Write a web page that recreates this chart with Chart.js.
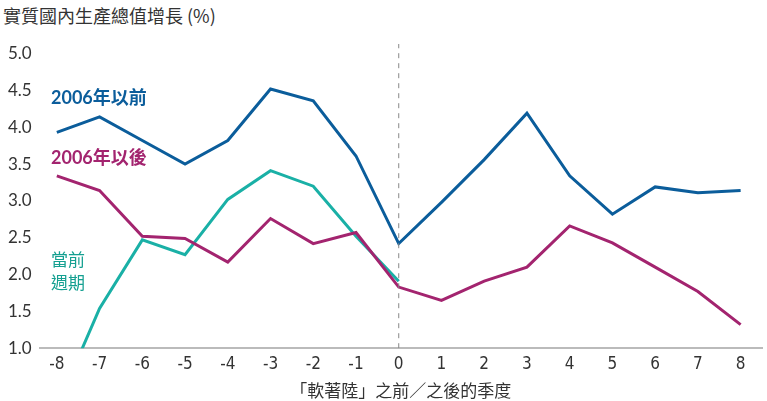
<!DOCTYPE html>
<html>
<head>
<meta charset="utf-8">
<script src="https://cdn.jsdelivr.net/npm/chart.js@4"></script>
<style>
  html, body { margin: 0; padding: 0; background: #fff; }
  #wrap { position: relative; width: 767px; height: 401px; }
  #title {
    position: absolute; left: 3px; top: 2px;
    font: 18px "Noto Sans CJK TC", "Noto Sans", sans-serif; color: #333;
  }
  canvas { position: absolute; left: 0; top: 0; }
</style>
</head>
<body>
<div id="wrap">
  <div id="title">實質國內生產總值增長 (%)</div>
  <canvas id="gdpChart" width="767" height="401"></canvas>
</div>
<script>
// -----------------------------
// Data
// -----------------------------
const quarters = [-8, -7, -6, -5, -4, -3, -2, -1, 0, 1, 2, 3, 4, 5, 6, 7, 8];
const before2006 = [3.93, 4.14, 3.82, 3.50, 3.82, 4.52, 4.36, 3.61, 2.42, 2.98, 3.56, 4.19, 3.34, 2.82, 3.19, 3.11, 3.14];
const after2006 = [3.34, 3.14, 2.52, 2.49, 2.17, 2.76, 2.42, 2.57, 1.83, 1.65, 1.91, 2.10, 2.66, 2.43, 2.10, 1.77, 1.32];
const currentCycle = [0.20, 1.54, 2.47, 2.27, 3.02, 3.41, 3.20, 2.52, 1.91];
const yTicks = [1.0, 1.5, 2.0, 2.5, 3.0, 3.5, 4.0, 4.5, 5.0];
const xTitle = "「軟著陸」之前／之後的季度";

const BLUE = "#0b5d9b";
const MAGENTA = "#a3246f";
const TEAL = "#1ab0a6";

function toPoints(values) {
  return values.map((v, i) => ({ x: quarters[i], y: v }));
}

// -----------------------------
// In-chart series labels
// -----------------------------
const seriesLabels = {
  id: "seriesLabels",
  afterDatasetsDraw(chart) {
    const ctx = chart.ctx;
    ctx.save();
    ctx.textBaseline = "middle";
    ctx.textAlign = "left";
    ctx.font = "bold 18px Lato, 'Noto Sans CJK TC', sans-serif";
    ctx.fillStyle = BLUE;
    ctx.fillText("2006年以前", 51, 98);
    ctx.fillStyle = MAGENTA;
    ctx.fillText("2006年以後", 51, 158);
    ctx.font = "17px 'Noto Sans CJK TC', sans-serif";
    ctx.fillStyle = "#15a091";
    ctx.fillText("當前", 51, 260);
    ctx.fillText("週期", 51, 283);
    ctx.restore();
  }
};

// -----------------------------
// Chart
// -----------------------------
const ctx = document.getElementById("gdpChart").getContext("2d");
new Chart(ctx, {
  type: "line",
  data: {
    datasets: [
      {
        label: "zero",
        data: [{ x: 0, y: 1 }, { x: 0, y: 5.13 }],
        borderColor: "#888",
        borderWidth: 1,
        borderDash: [5, 5],
        pointRadius: 0
      },
      {
        label: "2006年以後",
        data: toPoints(after2006),
        borderColor: MAGENTA,
        borderWidth: 3,
        pointRadius: 0,
        tension: 0
      },
      {
        label: "當前週期",
        data: toPoints(currentCycle),
        borderColor: TEAL,
        borderWidth: 3,
        pointRadius: 0,
        tension: 0
      },
      {
        label: "2006年以前",
        data: toPoints(before2006),
        borderColor: BLUE,
        borderWidth: 3,
        pointRadius: 0,
        tension: 0
      }
    ]
  },
  options: {
    responsive: false,
    animation: false,
    layout: { padding: { top: 44, right: 5, bottom: 0, left: 0 } },
    plugins: {
      legend: { display: false },
      tooltip: { enabled: false }
    },
    scales: {
      x: {
        type: "linear",
        min: -8.4,
        max: 8.5,
        afterBuildTicks: axis => { axis.ticks = quarters.map(v => ({ value: v })); },
        grid: { display: false, drawTicks: false },
        border: { color: "#bbb", width: 2 },
        ticks: {
          color: "#333",
          padding: 6,
          font: { family: "'Liberation Sans Narrow', 'DejaVu Sans Condensed', sans-serif", size: 17 },
          callback: v => String(v)
        },
        title: {
          display: true,
          text: xTitle,
          color: "#333",
          padding: { top: 0, bottom: 0 },
          font: { family: "'Noto Sans CJK TC', sans-serif", size: 17 }
        }
      },
      y: {
        min: 1.0,
        max: 5.13,
        afterBuildTicks: axis => { axis.ticks = yTicks.map(v => ({ value: v })); },
        grid: { display: false, drawTicks: false },
        border: { display: false },
        ticks: {
          color: "#333",
          padding: 8,
          font: { family: "Lato, 'Noto Sans', sans-serif", size: 17 },
          callback: v => Number(v).toFixed(1)
        }
      }
    }
  },
  plugins: [seriesLabels]
});
</script>
</body>
</html>
